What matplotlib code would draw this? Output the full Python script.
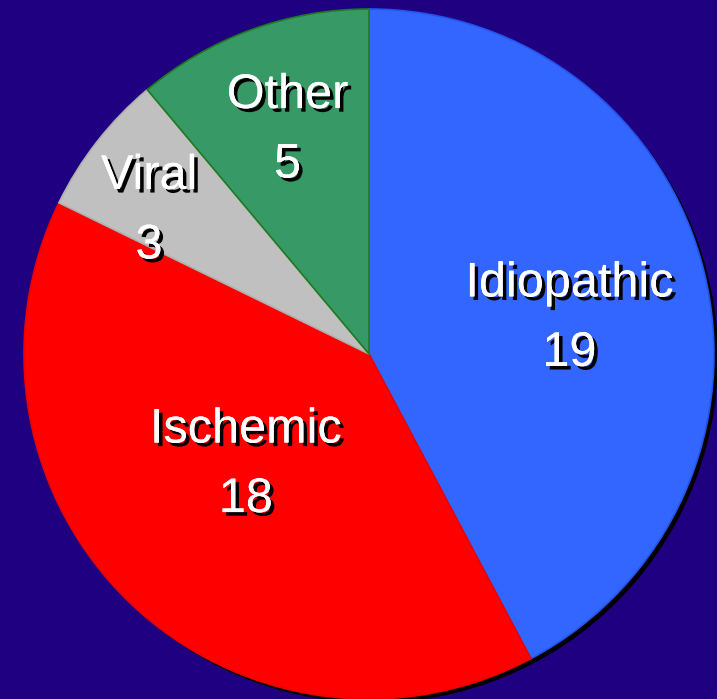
import numpy as np
import matplotlib.pyplot as plt
import matplotlib.patheffects as pe
from matplotlib.patches import Circle

# Causes of cardiomyopathy (counts)
labels = ['Idiopathic', 'Ischemic', 'Viral', 'Other']
counts = [19, 18, 3, 5]
colors = ['#3366FF', '#FF0000', '#C0C0C0', '#379966']
edges = ['#2255EE', '#EE0000', '#B0B0B0', '#1E7A1E']
label_r = [0.59, 0.48, 0.76, 0.69]
label_shift = [-4, -4, 5, 0]  # degrees

bg = '#1F0080'
fig = plt.figure(figsize=(7.17, 6.99), dpi=100, facecolor=bg)
ax = fig.add_axes([0, 0, 1, 1])
ax.set_facecolor(bg)

cx, cy, R = 369, 345, 345

# black drop shadow behind the pie
ax.add_patch(Circle((cx + 4, cy - 4), R, facecolor='black', edgecolor='none', zorder=0))

wedges, _ = ax.pie(counts, colors=colors, startangle=90, counterclock=False,
                   center=(cx, cy), radius=R, frame=True,
                   wedgeprops=dict(linewidth=1.2))
for w, ec in zip(wedges, edges):
    w.set_edgecolor(ec)
    w.set_zorder(1)

ax.set_xlim(0, 717)
ax.set_ylim(0, 699)
ax.set_aspect('equal')
ax.axis('off')

shadow = [pe.withSimplePatchShadow(offset=(2.6, -2.6), shadow_rgbFace='black', alpha=1.0), pe.Normal()]
for w, lab, n, r, s in zip(wedges, labels, counts, label_r, label_shift):
    ang = np.deg2rad((w.theta1 + w.theta2) / 2 + s)
    x = cx + r * R * np.cos(ang)
    y = cy + r * R * np.sin(ang)
    ax.text(x, y, f'{lab}\n{n}', ha='center', va='center', color='white',
            fontsize=35, family='Liberation Sans', linespacing=1.7,
            path_effects=shadow, zorder=3)

fig.savefig('out.png', dpi=100, facecolor=bg)
